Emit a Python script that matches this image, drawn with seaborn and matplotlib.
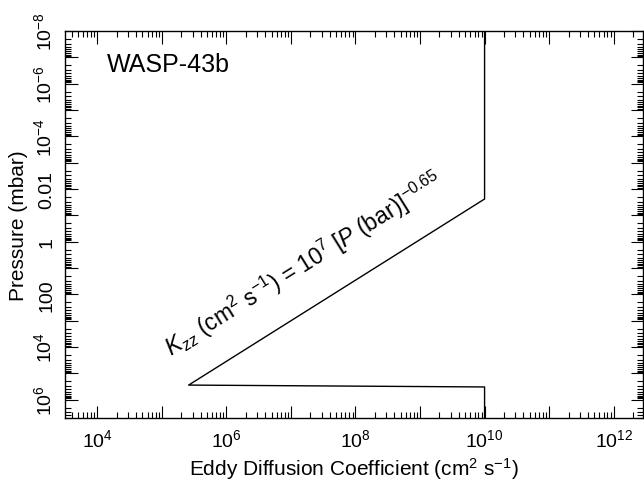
import math
import matplotlib
matplotlib.use("Agg")
import matplotlib.pyplot as plt
import matplotlib.ticker as mticker
import seaborn as sns

# ── style ────────────────────────────────────────────────────────────────────
sns.set_theme(style="ticks")
plt.rcParams["font.family"] = ["Liberation Sans", "DejaVu Sans"]
plt.rcParams["mathtext.fontset"] = "custom"
plt.rcParams["mathtext.rm"] = "Liberation Sans"
plt.rcParams["mathtext.it"] = "Liberation Sans:italic"
plt.rcParams["mathtext.default"] = "regular"

# ── data (Kzz profile) ───────────────────────────────────────────────────────
kzz = [1e10, 1e10, 2.6e5, 1e10, 1e10]          # cm^2 s^-1
pressure = [1e-8, 2.4e-2, 2.8e5, 3.3e5, 1e7]   # mbar

x_label_exp = [4, 6, 8, 10, 12]
y_ticks = [1e-8, 1e-6, 1e-4, 1e-2, 1, 1e2, 1e4, 1e6]
y_tick_labels = [r"$10^{-8}$", r"$10^{-6}$", r"$10^{-4}$", "0.01", "1", "100",
                 r"$10^4$", r"$10^6$"]

fig = plt.figure(figsize=(6.44, 4.85), dpi=100)
ax = fig.add_axes([0.101, 0.136, 0.897, 0.798])

sns.lineplot(x=kzz, y=pressure, sort=False, estimator=None, color="black",
             linewidth=1.0, ax=ax)

ax.set_xscale("log")
ax.set_yscale("log")
ax.set_xlim(10**3.5, 10**12.45)
ax.set_ylim(5e6, 1e-8)


def xfmt(v, pos):
    e = int(round(math.log10(v)))
    return rf"$10^{{{e}}}$" if e in x_label_exp else ""


ylab = {round(math.log10(v)): s for v, s in zip(y_ticks, y_tick_labels)}

# ticks every decade, labels every second decade
for axis in (ax.xaxis, ax.yaxis):
    axis.set_major_locator(mticker.LogLocator(base=10, numticks=30))
    axis.set_minor_locator(mticker.LogLocator(base=10, subs=range(2, 10), numticks=100))
    axis.set_minor_formatter(mticker.NullFormatter())
ax.xaxis.set_major_formatter(mticker.FuncFormatter(xfmt))
ax.yaxis.set_major_formatter(mticker.FuncFormatter(
    lambda v, p: ylab.get(round(math.log10(v)), "")))

ax.tick_params(which="both", direction="in", top=True, right=True,
               color="black", width=0.8, labelsize=14, labelcolor="black")
ax.tick_params(which="major", length=9)
ax.tick_params(which="minor", length=4.5)
ax.tick_params(axis="y", labelrotation=90, pad=7)
ax.tick_params(axis="x", pad=7)
for lbl in ax.get_yticklabels():
    lbl.set_va("center")
for s in ax.spines.values():
    s.set_color("black")
    s.set_linewidth(1.0)

ax.set_xlabel(r"Eddy Diffusion Coefficient (cm$^2$ s$^{-1}$)", fontsize=15, color="black")
ax.set_ylabel("Pressure (mbar)", fontsize=15, color="black", labelpad=4)

ax.text(0.073, 0.897, "WASP-43b", transform=ax.transAxes, fontsize=18,
        ha="left", va="baseline", color="black")
ax.text(10**5.15, 10**4.35,
        r"$\mathit{K}_{\mathit{zz}}$ (cm$^2$ s$^{-1}$) = 10$^7$ [$\mathit{P}$ (bar)]$^{-0.65}$",
        rotation=32, rotation_mode="anchor", ha="left", va="baseline",
        fontsize=16.5, color="black")

fig.savefig("out.png", dpi=100)
